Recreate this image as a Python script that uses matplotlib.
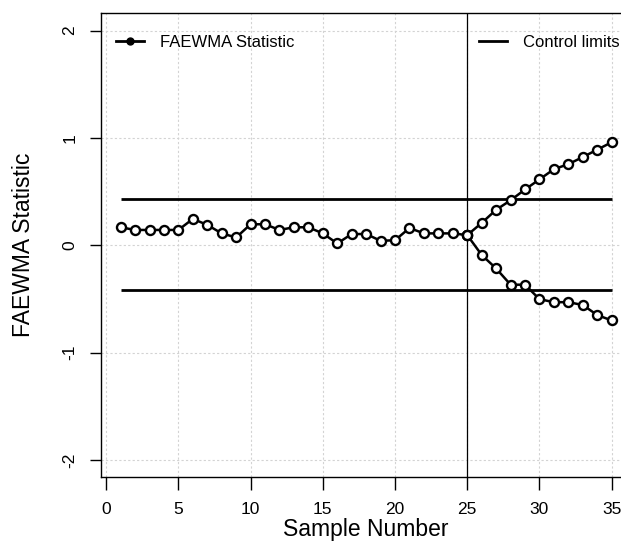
import matplotlib
matplotlib.use("Agg")
import matplotlib.pyplot as plt
from matplotlib.lines import Line2D
import numpy as np

plt.rcParams['font.family'] = ['Liberation Sans', 'DejaVu Sans']

# in-control part, samples 1..25
samples_in = list(range(1, 26))
stat_in = [0.167, 0.142, 0.142, 0.142, 0.142, 0.245, 0.189, 0.110, 0.072, 0.195,
           0.195, 0.142, 0.167, 0.167, 0.110, 0.016, 0.104, 0.104, 0.041, 0.046,
           0.160, 0.110, 0.110, 0.110, 0.094]

# shifted part, samples 25..35 (both branches start at sample 25)
samples_out = list(range(25, 36))
stat_up = [0.094, 0.207, 0.330, 0.418, 0.519, 0.613, 0.708, 0.755, 0.821, 0.890, 0.959]
stat_low = [0.094, -0.091, -0.217, -0.368, -0.368, -0.503, -0.531, -0.531, -0.557, -0.651, -0.701]

ucl = 0.43
lcl = -0.42
shift_at = 25
x_ticks = [0, 5, 10, 15, 20, 25, 30, 35]
y_ticks = [-2, -1, 0, 1, 2]

fig = plt.figure(figsize=(6.21, 5.5), dpi=100)
ax = fig.add_axes([0.1626, 0.1327, 0.854, 0.843])

ax.set_xlim(-0.36, 36.36)
ax.set_ylim(-2.16, 2.16)

# grid first so everything sits on top
for xt in x_ticks:
    ax.axvline(xt, color='#d3d3d3', linestyle=(0, (2, 2)), linewidth=0.8, zorder=0)
for yt in y_ticks:
    ax.axhline(yt, color='#d3d3d3', linestyle=(0, (2, 2)), linewidth=0.8, zorder=0)

ax.axvline(shift_at, color='black', linewidth=0.9, zorder=1)

ax.hlines([ucl, lcl], 1, 35, colors='black', linewidth=2.0, zorder=2)

mk = dict(marker='o', markersize=6.5, markerfacecolor='white', markeredgecolor='black',
          markeredgewidth=1.7, color='black', linewidth=1.8, zorder=3)
ax.plot(samples_in, stat_in, **mk)
ax.plot(samples_out, stat_up, **mk)
ax.plot(samples_out, stat_low, **mk)

ax.set_xticks(x_ticks)
ax.set_yticks(y_ticks)
ax.set_yticklabels([str(v) for v in y_ticks], rotation=90, va='center')
ax.tick_params(axis='x', direction='out', length=9, width=1, labelsize=12.5, pad=9)
ax.tick_params(axis='y', direction='out', length=8, width=1, labelsize=12.5, pad=9)
for s in ax.spines.values():
    s.set_linewidth(1.0)

ax.set_xlabel('Sample Number', fontsize=16.5, labelpad=1)
ax.set_ylabel('FAEWMA Statistic', fontsize=16.5, labelpad=20)

h1 = Line2D([], [], color='black', linewidth=2, marker='o', markersize=5)
h2 = Line2D([], [], color='black', linewidth=2)
leg1 = ax.legend([h1], ['FAEWMA Statistic'], loc='upper left', bbox_to_anchor=(0.0, 0.985),
                 frameon=False, fontsize=12, handlelength=1.7, handletextpad=0.95)
ax.add_artist(leg1)
ax.legend([h2], ['Control limits'], loc='upper left',
          bbox_to_anchor=((24.75 + 0.36) / 36.72, 0.985),
          frameon=False, fontsize=12, handlelength=1.7, handletextpad=0.95)

fig.savefig('out.png', dpi=100)
